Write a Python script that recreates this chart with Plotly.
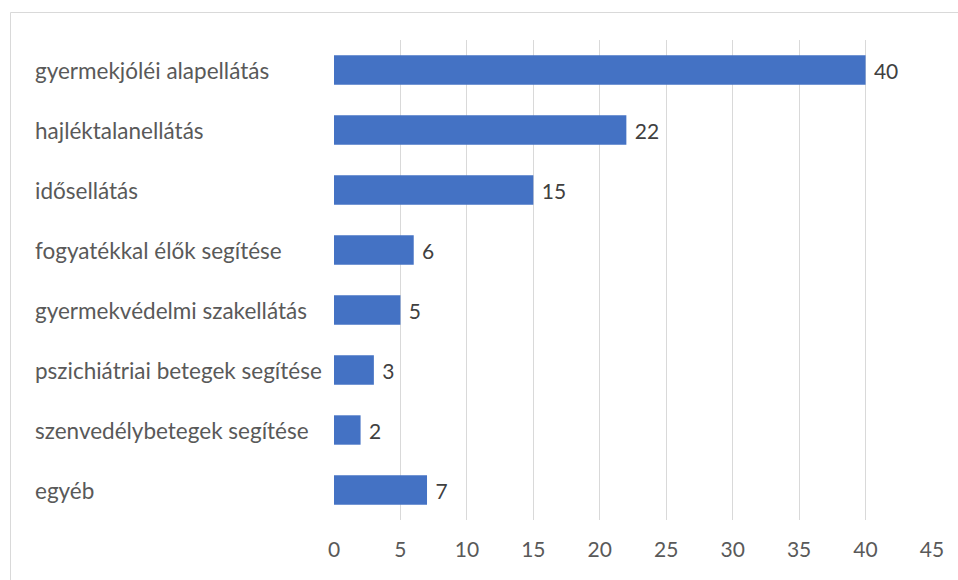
import plotly.graph_objects as go

categories = [
    "gyermekjóléi alapellátás",
    "hajléktalanellátás",
    "idősellátás",
    "fogyatékkal élők segítése",
    "gyermekvédelmi szakellátás",
    "pszichiátriai betegek segítése",
    "szenvedélybetegek segítése",
    "egyéb",
]
values = [40, 22, 15, 6, 5, 3, 2, 7]
x_ticks = [0, 5, 10, 15, 20, 25, 30, 35, 40, 45]

W, H = 958, 580
L, R, T, B = 334, 26, 40, 60
plot_w = W - L - R
plot_h = H - T - B

font_family = "Lato, Open Sans, sans-serif"
label_color = "#595959"

fig = go.Figure(
    go.Bar(
        x=values,
        y=categories,
        orientation="h",
        marker=dict(color="#4472C4", line=dict(width=0)),
        text=["\u00a0" + str(v) for v in values],
        textposition="outside",
        textfont=dict(family=font_family, size=21, color="#404040"),
        cliponaxis=False,
        width=0.49,
    )
)

# Category labels, left aligned at a common edge
for c in categories:
    fig.add_annotation(
        x=(33 - L) / plot_w,
        xref="paper",
        y=c,
        yref="y",
        text=c,
        showarrow=False,
        xanchor="left",
        yanchor="middle",
        font=dict(family=font_family, size=22.5, color=label_color),
    )

# Outer chart border
fig.add_shape(
    type="rect",
    xref="paper",
    yref="paper",
    x0=(10.5 - L) / plot_w,
    x1=(W + 20 - L) / plot_w,
    y0=(B - H - 20) / plot_h,
    y1=(plot_h + T - 12.5) / plot_h,
    line=dict(color="#d9d9d9", width=1),
    fillcolor="rgba(0,0,0,0)",
    layer="below",
)

fig.update_layout(
    width=W,
    height=H,
    margin=dict(l=L, r=R, t=T, b=B),
    paper_bgcolor="white",
    plot_bgcolor="white",
    showlegend=False,
    xaxis=dict(
        range=[0, 45],
        tickvals=x_ticks,
        ticktext=[str(t) for t in x_ticks],
        showgrid=True,
        gridcolor="#d9d9d9",
        gridwidth=1,
        zeroline=False,
        showline=False,
        ticks="",
        ticklabelstandoff=15,
        tickfont=dict(family=font_family, size=21, color=label_color),
    ),
    yaxis=dict(
        autorange="reversed",
        showticklabels=False,
        showgrid=False,
        zeroline=False,
        showline=False,
        ticks="",
    ),
)

fig.write_html("out.html")
